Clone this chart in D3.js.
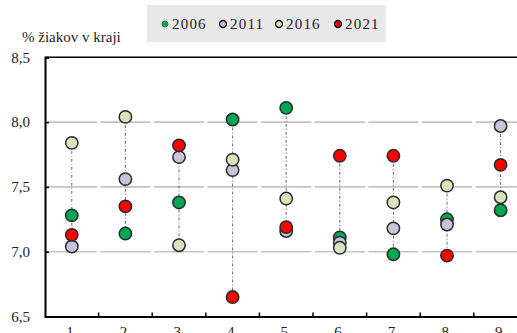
<!DOCTYPE html>
<html><head><meta charset="utf-8">
<script src="https://cdn.jsdelivr.net/npm/d3@7"></script>
<style>
html,body{margin:0;padding:0;background:#fff;overflow:hidden;}
text{font-family:"Liberation Serif","DejaVu Serif",serif;fill:#222;}
</style></head>
<body><svg id="c" width="517" height="333"></svg>
<script>
const categories = ["1.","2.","3.","4.","5.","6.","7.","8.","9."];
const seriesNames = ["2006","2011","2016","2021"];
const v2006 = [7.28,7.14,7.38,8.02,8.11,7.11,6.98,7.25,7.32];
const v2011 = [7.04,7.56,7.73,7.63,7.16,7.07,7.18,7.21,7.97];
const v2016 = [7.84,8.04,7.05,7.71,7.41,7.03,7.38,7.51,7.42];
const v2021 = [7.13,7.35,7.82,6.65,7.19,7.74,7.74,6.97,7.67];
const yTicks = [6.5,7.0,7.5,8.0,8.5];
const yLabel = "% žiakov v kraji";
const colors = ["#00A651","#CCC1DA","#D7E4BD","#FF0000"];

const series = [v2006,v2011,v2016,v2021];
const svg = d3.select("#c");
const x = d3.scaleBand().domain(categories).range([45, 45+53.6*9]).paddingInner(0).paddingOuter(0);
const y = d3.scaleLinear().domain([6.5,8.5]).range([316.5,57.3]);
const fmt = d => d3.format(".1f")(d).replace(".", ",");

// gridlines
const gridVals = yTicks.filter(t => t>6.5 && t<8.5);
svg.append("g").selectAll("line").data(gridVals).join("line")
  .attr("x1",45).attr("x2",517).attr("y1",d=>y(d)).attr("y2",d=>y(d))
  .attr("stroke","#C4C4C4").attr("stroke-width",1.6)
  .attr("stroke-dasharray",(x.bandwidth()-3.5)+",3.5")
  .attr("stroke-dashoffset",-1.75);

// top border
svg.append("line").attr("x1",45).attr("x2",517).attr("y1",y(8.5)).attr("y2",y(8.5))
  .attr("stroke","#000").attr("stroke-width",1.5);

// y axis
const yAxis = svg.append("g").attr("transform","translate(45,0)")
  .call(d3.axisLeft(y).tickValues(yTicks).tickSize(-4).tickPadding(15).tickFormat(fmt));
yAxis.select(".domain").attr("stroke","#000").attr("stroke-width",2);
yAxis.selectAll(".tick line").attr("stroke","#000").attr("stroke-width",1.5);
yAxis.selectAll("text").attr("font-size",15).attr("fill","#222").style("font-family","Liberation Serif, serif");

// x axis
const xAxis = svg.append("g").attr("transform","translate(0,"+y(6.5)+")")
  .call(d3.axisBottom(x).tickSize(0).tickPadding(10));
xAxis.select(".domain").attr("stroke","#000").attr("stroke-width",2);
xAxis.selectAll("text").attr("font-size",15).attr("fill","#222").style("font-family","Liberation Serif, serif");
const bounds = categories.slice(1).map(c => x(c));
xAxis.selectAll(".btick").data(bounds).join("line").attr("class","btick")
  .attr("x1",d=>d).attr("x2",d=>d).attr("y1",0).attr("y2",-4)
  .attr("stroke","#000").attr("stroke-width",1.5);

// connecting lines
svg.append("g").selectAll("line").data(categories).join("line")
  .attr("x1",c=>x(c)+x.bandwidth()/2).attr("x2",c=>x(c)+x.bandwidth()/2)
  .attr("y1",(c,i)=>y(d3.max(series,s=>s[i])))
  .attr("y2",(c,i)=>y(d3.min(series,s=>s[i])))
  .attr("stroke","#6a6a6a").attr("stroke-width",1)
  .attr("stroke-dasharray","3,2,1,2");

// markers
series.forEach((s,si)=>{
  svg.append("g").selectAll("circle").data(s).join("circle")
    .attr("cx",(d,i)=>x(categories[i])+x.bandwidth()/2)
    .attr("cy",d=>y(d))
    .attr("r",6.2)
    .attr("fill",colors[si]).attr("stroke","#2a2a2a").attr("stroke-width",1.5);
});

// y label
svg.append("text").attr("x",22).attr("y",42).attr("font-size",15).text(yLabel);

// legend
const lg = svg.append("g");
lg.append("rect").attr("x",147).attr("y",5).attr("width",239).attr("height",37).attr("fill","#E8E8E8");
const lx = [165,223,279,338];
seriesNames.forEach((n,i)=>{
  lg.append("circle").attr("cx",lx[i]).attr("cy",24).attr("r",i===0?3:3.4)
    .attr("fill",colors[i]).attr("stroke",i===0?"#2a6a3a":"#111").attr("stroke-width",i===0?0.8:1.5);
  lg.append("text").attr("x",lx[i]+7).attr("y",29).attr("font-size",15)
    .attr("letter-spacing",1.2).text(n);
});
</script></body></html>
